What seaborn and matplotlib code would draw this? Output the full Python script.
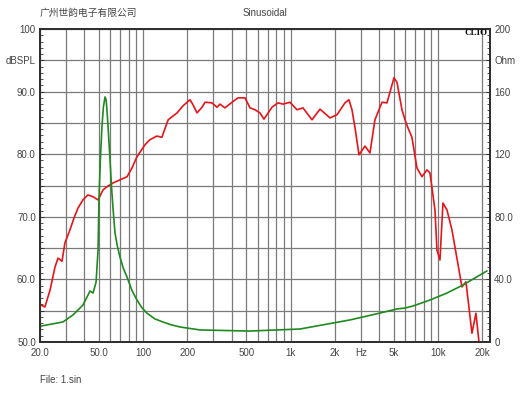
import numpy as np
import pandas as pd
import matplotlib
matplotlib.use("Agg")
import matplotlib.pyplot as plt
import seaborn as sns
from matplotlib.ticker import FixedLocator, MultipleLocator

# SPL response (left axis, dBSPL)
spl_freq = [20.3, 21.6, 23.4, 25.3, 26.5, 28.2, 29.5, 31.9, 34.0, 36.2, 39.1, 42.3, 45.8, 49.5,
            53.5, 56.9, 62.5, 69.7, 77.8, 84.1, 90.9, 103, 111, 124, 134, 148, 170, 186, 208,
            218, 232, 251, 263, 293, 317, 332, 359, 401, 440, 491, 531, 574, 620, 660, 748,
            822, 888, 991, 1105, 1214, 1397, 1583, 1850, 2064, 2338, 2488, 2608, 2732, 2910,
            3195, 3454, 3734, 4166, 4503, 5024, 5264, 5692, 5966, 6252, 6653, 7192, 7778,
            8410, 8813, 9528, 9830, 10302, 10796, 11490, 12426, 14522, 15458, 16978, 18068, 18940]
spl_db = [55.9, 55.6, 58.3, 62.0, 63.4, 62.9, 65.8, 67.9, 69.8, 71.4, 72.7, 73.5, 73.2, 72.7,
          74.3, 74.8, 75.4, 75.9, 76.4, 77.8, 79.6, 81.5, 82.3, 82.9, 82.7, 85.5, 86.6, 87.7, 88.7,
          87.9, 86.6, 87.5, 88.3, 88.2, 87.5, 88.0, 87.4, 88.3, 89.0, 89.0, 87.4, 87.1, 86.6, 85.6,
          87.5, 88.2, 88.0, 88.3, 87.1, 87.4, 85.5, 87.2, 85.8, 86.3, 88.2, 88.7, 87.1, 84.3, 79.9,
          81.3, 80.2, 85.5, 88.3, 88.2, 92.2, 91.5, 87.1, 85.5, 84.2, 82.7, 77.8, 76.4,
          77.5, 77.0, 71.1, 64.7, 63.1, 72.2, 71.1, 67.9, 58.8, 59.6, 51.4, 54.6, 50.0]

# Impedance (right axis, Ohm)
imp_freq = [20.3, 28.6, 33.5, 39.1, 41.7, 43.7, 45.8, 48.0, 49.5, 50.2, 51.3, 52.6, 53.8, 55.2,
            56.2, 56.9, 58.0, 59.7, 61.0, 62.5, 64.5, 67.0, 69.7, 73.5, 77.8, 84.0, 90.9, 98.0,
            106, 120, 136, 155, 178, 243, 531, 1158, 2528, 4038, 5264,
            5966, 6758, 8813, 11490, 14752, 19236, 21460]
imp_ohm = [10.2, 12.8, 17.3, 23.6, 28.8, 32.6, 31.3, 38.3, 58.8, 90.7, 116.0, 137.4, 150.0, 156.6,
           154.5, 148.3, 136.0, 116.3, 100.0, 85.6, 69.7, 61.0, 54.3, 47.0, 41.5, 33.0, 26.8, 22.0,
           18.5, 14.8, 12.8, 11.0, 9.6, 7.7, 7.0, 8.3, 14.1, 18.5, 21.1,
           21.7, 23.0, 26.8, 31.3, 36.4, 42.8, 45.4]

x_ticks = [20, 30, 40, 50, 60, 70, 80, 90, 100, 200, 300, 400, 500, 600, 700, 800, 900,
           1000, 2000, 3000, 4000, 5000, 6000, 7000, 8000, 9000, 10000, 20000]
x_labels = {20: "20.0", 50: "50.0", 100: "100", 200: "200", 500: "500", 1000: "1k",
            2000: "2k", 3000: "Hz", 5000: "5k", 10000: "10k", 20000: "20k"}
left_ticks = [50, 55, 60, 65, 70, 75, 80, 85, 90, 95, 100]
left_labels = ["50.0", "", "60.0", "", "70.0", "", "80.0", "", "90.0", "dBSPL", "100"]
right_ticks = [0, 20, 40, 60, 80, 100, 120, 140, 160, 180, 200]
right_labels = ["0", "", "40.0", "", "80.0", "", "120", "", "160", "Ohm", "200"]

sns.set_style("white")
plt.rcParams["font.family"] = ["Liberation Sans", "Noto Sans CJK SC", "DejaVu Sans"]

spl_df = pd.DataFrame({"freq": spl_freq, "db": spl_db})
imp_df = pd.DataFrame({"freq": imp_freq, "ohm": imp_ohm})

fig = plt.figure(figsize=(5.30, 3.98), dpi=100)
ax = fig.add_axes([40 / 530, 56 / 398, 450 / 530, 313 / 398])
ax2 = ax.twinx()

grid_c = "#7a7a7a"
txt_c = "#444444"

ax.set_xscale("log")
ax.set_xlim(20, 22500)
ax.set_ylim(50, 100)
ax2.set_ylim(0, 200)

ax.xaxis.set_major_locator(FixedLocator(x_ticks))
ax.xaxis.set_minor_locator(FixedLocator([]))
ax.set_xticklabels([x_labels.get(t, "") for t in x_ticks])
ax.set_yticks(left_ticks)
ax.set_yticklabels(left_labels)
ax.yaxis.set_minor_locator(MultipleLocator(1))
ax2.set_yticks(right_ticks)
ax2.set_yticklabels(right_labels)
ax2.yaxis.set_minor_locator(MultipleLocator(4))

ax.grid(True, which="major", axis="both", color=grid_c, linewidth=0.9)
ax.set_axisbelow(True)

ax.tick_params(axis="x", length=0, pad=4, labelsize=7, labelcolor=txt_c)
ax.tick_params(axis="y", which="major", direction="in", length=3, width=0.7, pad=3,
               labelsize=7, labelcolor=txt_c, color="#333333")
ax.tick_params(axis="y", which="minor", direction="in", length=2.5, width=0.6, color="#333333")
ax2.tick_params(axis="y", which="major", direction="in", length=3, width=0.7, pad=3,
                labelsize=7, labelcolor=txt_c, color="#333333")
ax2.tick_params(axis="y", which="minor", direction="in", length=2.5, width=0.6, color="#333333")

sns.lineplot(data=spl_df, x="freq", y="db", ax=ax, color="#e8141a", linewidth=1.2,
             sort=False, estimator=None)
sns.lineplot(data=imp_df, x="freq", y="ohm", ax=ax2, color="#1f8a1f", linewidth=1.2,
             sort=False, estimator=None)
ax.set_xlabel("")
ax.set_ylabel("")
ax2.set_ylabel("")
ax2.grid(False)

for a in (ax, ax2):
    for s in a.spines.values():
        s.set_color("#303030")
        s.set_linewidth(1.4)

fig.text(40 / 530, 1 - 13 / 398, "广州世韵电子有限公司", fontsize=7, color=txt_c,
         family=["Noto Sans CJK SC", "DejaVu Sans"], va="center", ha="left")
fig.text(265 / 530, 1 - 13 / 398, "Sinusoidal", fontsize=7, color=txt_c, va="center", ha="center")
fig.text(476 / 530, 1 - 33 / 398, "CLIO", fontsize=6.5, color="#111111", va="center", ha="center",
         family=["Liberation Serif", "DejaVu Serif"], fontweight="bold")
fig.text(40 / 530, 1 - 380 / 398, "File: 1.sin", fontsize=7, color=txt_c, va="center", ha="left")

fig.savefig("out.png", dpi=100, facecolor="white")
